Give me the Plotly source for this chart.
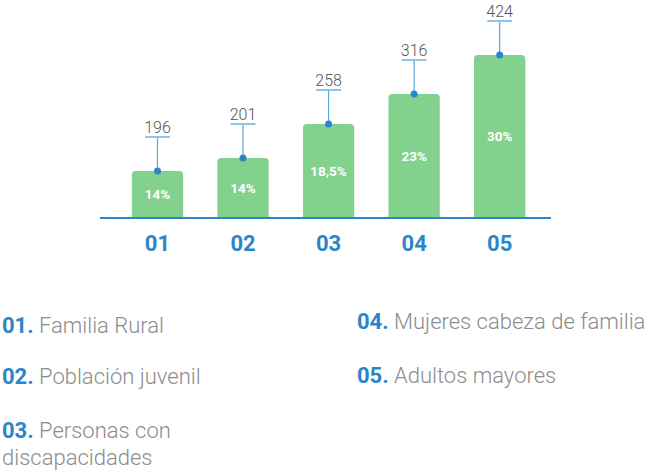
import plotly.graph_objs as go

# data
groups = ["01", "02", "03", "04", "05"]
names = ["Familia Rural", "Población juvenil", "Personas con<br>discapacidades",
         "Mujeres cabeza de familia", "Adultos mayores"]
people = [196, 201, 258, 316, 424]
shares = ["14%", "14%", "18,5%", "23%", "30%"]
bar_heights = [46, 59, 93, 123, 162]  # visual bar heights as drawn

W, H = 667, 471
L, R, T, B = 100, 116, 0, 254
stem = 34

green = "#82d18d"
blue = "#2a86c8"
stem_blue = "#5aa8d8"
tick_blue = "#8ec5e6"
grey = "#8c8c8c"

xs = list(range(len(groups)))

fig = go.Figure()

fig.add_trace(go.Bar(
    x=xs, y=bar_heights, width=0.6,
    marker=dict(color=green, cornerradius=4, line=dict(width=0)),
    text=shares, textposition="inside", insidetextanchor="middle",
    textangle=0,
    textfont=dict(family="Roboto", size=13.5, color="white", weight="bold"),
    hoverinfo="skip",
))

# stems
sx, sy, tx, ty = [], [], [], []
for i, h in zip(xs, bar_heights):
    sx += [i, i, None]
    sy += [h, h + stem, None]
    tx += [i - 0.145, i + 0.145, None]
    ty += [h + stem, h + stem, None]

fig.add_trace(go.Scatter(x=sx, y=sy, mode="lines",
                         line=dict(color=stem_blue, width=1.2), hoverinfo="skip"))
fig.add_trace(go.Scatter(x=tx, y=ty, mode="lines",
                         line=dict(color=tick_blue, width=2), hoverinfo="skip"))
fig.add_trace(go.Scatter(x=xs, y=bar_heights, mode="markers",
                         marker=dict(color=blue, size=7), hoverinfo="skip"))
fig.add_trace(go.Scatter(
    x=xs, y=[h + stem for h in bar_heights], mode="text",
    text=[str(p) for p in people], textposition="top center",
    textfont=dict(family="Roboto", size=16, color="#555555", weight=300),
    hoverinfo="skip", cliponaxis=False,
))


def paper_x(px):
    return (px - L) / (W - L - R)


def paper_y(py):
    return (H - B - py) / (H - T - B)


legend_pos = [(0, 325), (0, 376), (0, 430), (355, 321), (355, 375)]
for g, name, (px, py) in zip(groups, names, legend_pos):
    lines = name.split("<br>")
    for k, line in enumerate(lines):
        txt = line
        if k == 0:
            txt = "<b><span style='color:%s'>%s.</span></b> %s" % (blue, g, line)
        fig.add_annotation(
            x=paper_x(px), y=paper_y(py + 27 * k), xref="paper", yref="paper",
            xanchor="left", yanchor="middle", showarrow=False, text=txt,
            font=dict(family="Roboto", size=22, color=grey, weight=300),
        )

fig.update_layout(
    width=W, height=H,
    margin=dict(l=L, r=R, t=T, b=B, pad=0),
    paper_bgcolor="white", plot_bgcolor="white",
    showlegend=False,
    xaxis=dict(
        range=[-0.672, 4.60], tickvals=xs, ticktext=groups,
        showgrid=False, zeroline=False,
        showline=True, linecolor=blue, linewidth=2,
        ticks="", ticklabelstandoff=6,
        tickfont=dict(family="Roboto", size=22, color=blue, weight="bold"),
        fixedrange=True,
    ),
    yaxis=dict(range=[0, H - T - B], visible=False, fixedrange=True),
)

fig.write_html("out.html", config={"displayModeBar": False},
               post_script="document.body.style.margin='0';")
